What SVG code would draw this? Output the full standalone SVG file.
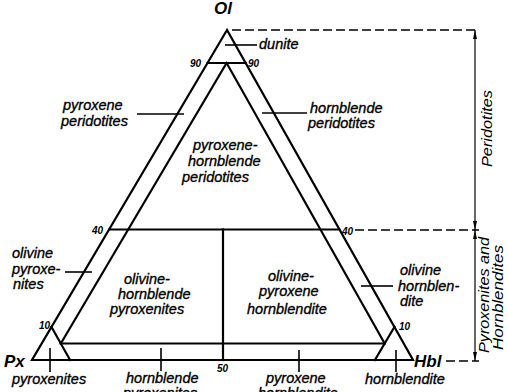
<svg xmlns="http://www.w3.org/2000/svg" width="508" height="392" viewBox="0 0 508 392">
<defs>
<style>
.ln{stroke:#000;stroke-width:2.2;fill:none;stroke-linecap:square}
.th{stroke:#000;stroke-width:1.6;fill:none}
.ds{stroke:#000;stroke-width:1.6;fill:none;stroke-dasharray:9,4}
.dim{stroke:#000;stroke-width:1.2;fill:none}
.t{font-family:"Liberation Sans",Arial,sans-serif;font-style:italic;font-size:14.5px;fill:#000;stroke:#000;stroke-width:0.35}
.n{font-family:"Liberation Sans",Arial,sans-serif;font-style:italic;font-weight:bold;font-size:10px;fill:#000}
.c{font-family:"Liberation Sans",Arial,sans-serif;font-style:italic;font-weight:bold;font-size:17px;fill:#000}
.r{font-family:"Liberation Sans",Arial,sans-serif;font-style:italic;font-size:15px;fill:#000}
</style>
<marker id="arr" viewBox="0 0 9 4" refX="9" refY="2" markerWidth="9" markerHeight="4" markerUnits="userSpaceOnUse" orient="auto-start-reverse">
<path d="M0,0 L9,2 L0,4 z" fill="#000"/>
</marker>
</defs>
<rect width="508" height="392" fill="#fff"/>

<g id="connectors">
<polygon class="ln" points="227,30 32,360 413,360" stroke-linejoin="miter"/>
<line class="ln" x1="207.5" y1="63" x2="245.6" y2="63" stroke-width="3"/>
<line class="ln" x1="226.6" y1="63" x2="60.8" y2="343.5"/>
<line class="ln" x1="226.6" y1="63" x2="384.7" y2="343.5"/>
<line class="ln" x1="60.8" y1="343.5" x2="384.7" y2="343.5"/>
<line class="ln" x1="109.1" y1="229.5" x2="339.4" y2="229.5"/>
<line class="ln" x1="223" y1="229.5" x2="223" y2="360"/>
<line class="ln" x1="51.5" y1="327" x2="70.1" y2="360"/>
<line class="ln" x1="394.4" y1="327" x2="374.9" y2="360"/>
<line class="th" x1="225" y1="45" x2="257" y2="45"/>
<line class="th" x1="137" y1="114" x2="184" y2="114"/>
<line class="th" x1="262" y1="113" x2="307" y2="113"/>
<line class="th" x1="65" y1="272" x2="92" y2="272"/>
<line class="th" x1="361" y1="286" x2="393" y2="286"/>
<line class="th" x1="50" y1="348" x2="50" y2="372"/>
<line class="th" x1="161" y1="348" x2="161" y2="371"/>
<line class="th" x1="299" y1="350" x2="299" y2="372"/>
<line class="th" x1="396" y1="350" x2="396" y2="372"/>
<line class="ds" x1="232" y1="30" x2="479" y2="30"/>
<line class="ds" x1="355" y1="230" x2="479" y2="230"/>
<line class="ds" x1="446" y1="361" x2="479" y2="361"/>
<line class="dim" x1="475" y1="30" x2="475" y2="230" marker-start="url(#arr)" marker-end="url(#arr)"/>
<line class="dim" x1="475" y1="230" x2="475" y2="361" marker-start="url(#arr)" marker-end="url(#arr)"/>
</g>

<g id="corner-ol"><text class="c" x="214" y="14">Ol</text></g>
<g id="corner-px"><text class="c" x="4" y="367">Px</text></g>
<g id="corner-hbl"><text class="c" x="414" y="367" font-size="15">Hbl</text></g>

<g id="ticks">
<text class="n" x="190" y="67">90</text>
<text class="n" x="248" y="67">90</text>
<text class="n" x="92" y="234">40</text>
<text class="n" x="342" y="235">40</text>
<text class="n" x="39" y="329">10</text>
<text class="n" x="399" y="330">10</text>
<text class="n" x="217" y="372">50</text>
</g>

<g id="dunite"><text class="t" x="259" y="49">dunite</text></g>
<g id="pyroxene-peridotites"><text class="t" x="63" y="110">pyroxene</text><text class="t" x="61" y="126">peridotites</text></g>
<g id="hornblende-peridotites"><text class="t" x="310" y="113">hornblende</text><text class="t" x="308" y="128">peridotites</text></g>
<g id="pyroxene-hornblende-peridotites"><text class="t" x="193" y="150">pyroxene-</text><text class="t" x="188" y="166">hornblende</text><text class="t" x="182" y="182">peridotites</text></g>
<g id="olivine-pyroxenites"><text class="t" x="12" y="258">olivine</text><text class="t" x="12" y="274">pyroxe-</text><text class="t" x="13" y="289">nites</text></g>
<g id="olivine-hornblende-pyroxenites"><text class="t" x="124" y="284">olivine-</text><text class="t" x="118" y="299">hornblende</text><text class="t" x="110" y="314">pyroxenites</text></g>
<g id="olivine-pyroxene-hornblendite"><text class="t" x="268" y="281">olivine-</text><text class="t" x="259" y="296">pyroxene</text><text class="t" x="247" y="314">hornblendite</text></g>
<g id="olivine-hornblendite"><text class="t" x="400" y="275">olivine</text><text class="t" x="398" y="291">hornblen-</text><text class="t" x="400" y="306">dite</text></g>
<g id="pyroxenites"><text class="t" x="12" y="384">pyroxenites</text></g>
<g id="hornblende-pyroxenites"><text class="t" x="126" y="383">hornblende</text><text class="t" x="123" y="398">pyroxenites</text></g>
<g id="pyroxene-hornblendite"><text class="t" x="266" y="383">pyroxene</text><text class="t" x="258" y="398">hornblendite</text></g>
<g id="hornblendite"><text class="t" x="365" y="384">hornblendite</text></g>

<g id="peridotites-range"><text class="r" transform="translate(492,167) rotate(-90)" textLength="77" lengthAdjust="spacingAndGlyphs">Peridotites</text></g>
<g id="pyroxenites-range"><text class="r" transform="translate(489,353) rotate(-90)" textLength="116" lengthAdjust="spacingAndGlyphs">Pyroxenites  and</text><text class="r" transform="translate(503,350) rotate(-90)" textLength="105" lengthAdjust="spacingAndGlyphs">Hornblendites</text></g>
</svg>
